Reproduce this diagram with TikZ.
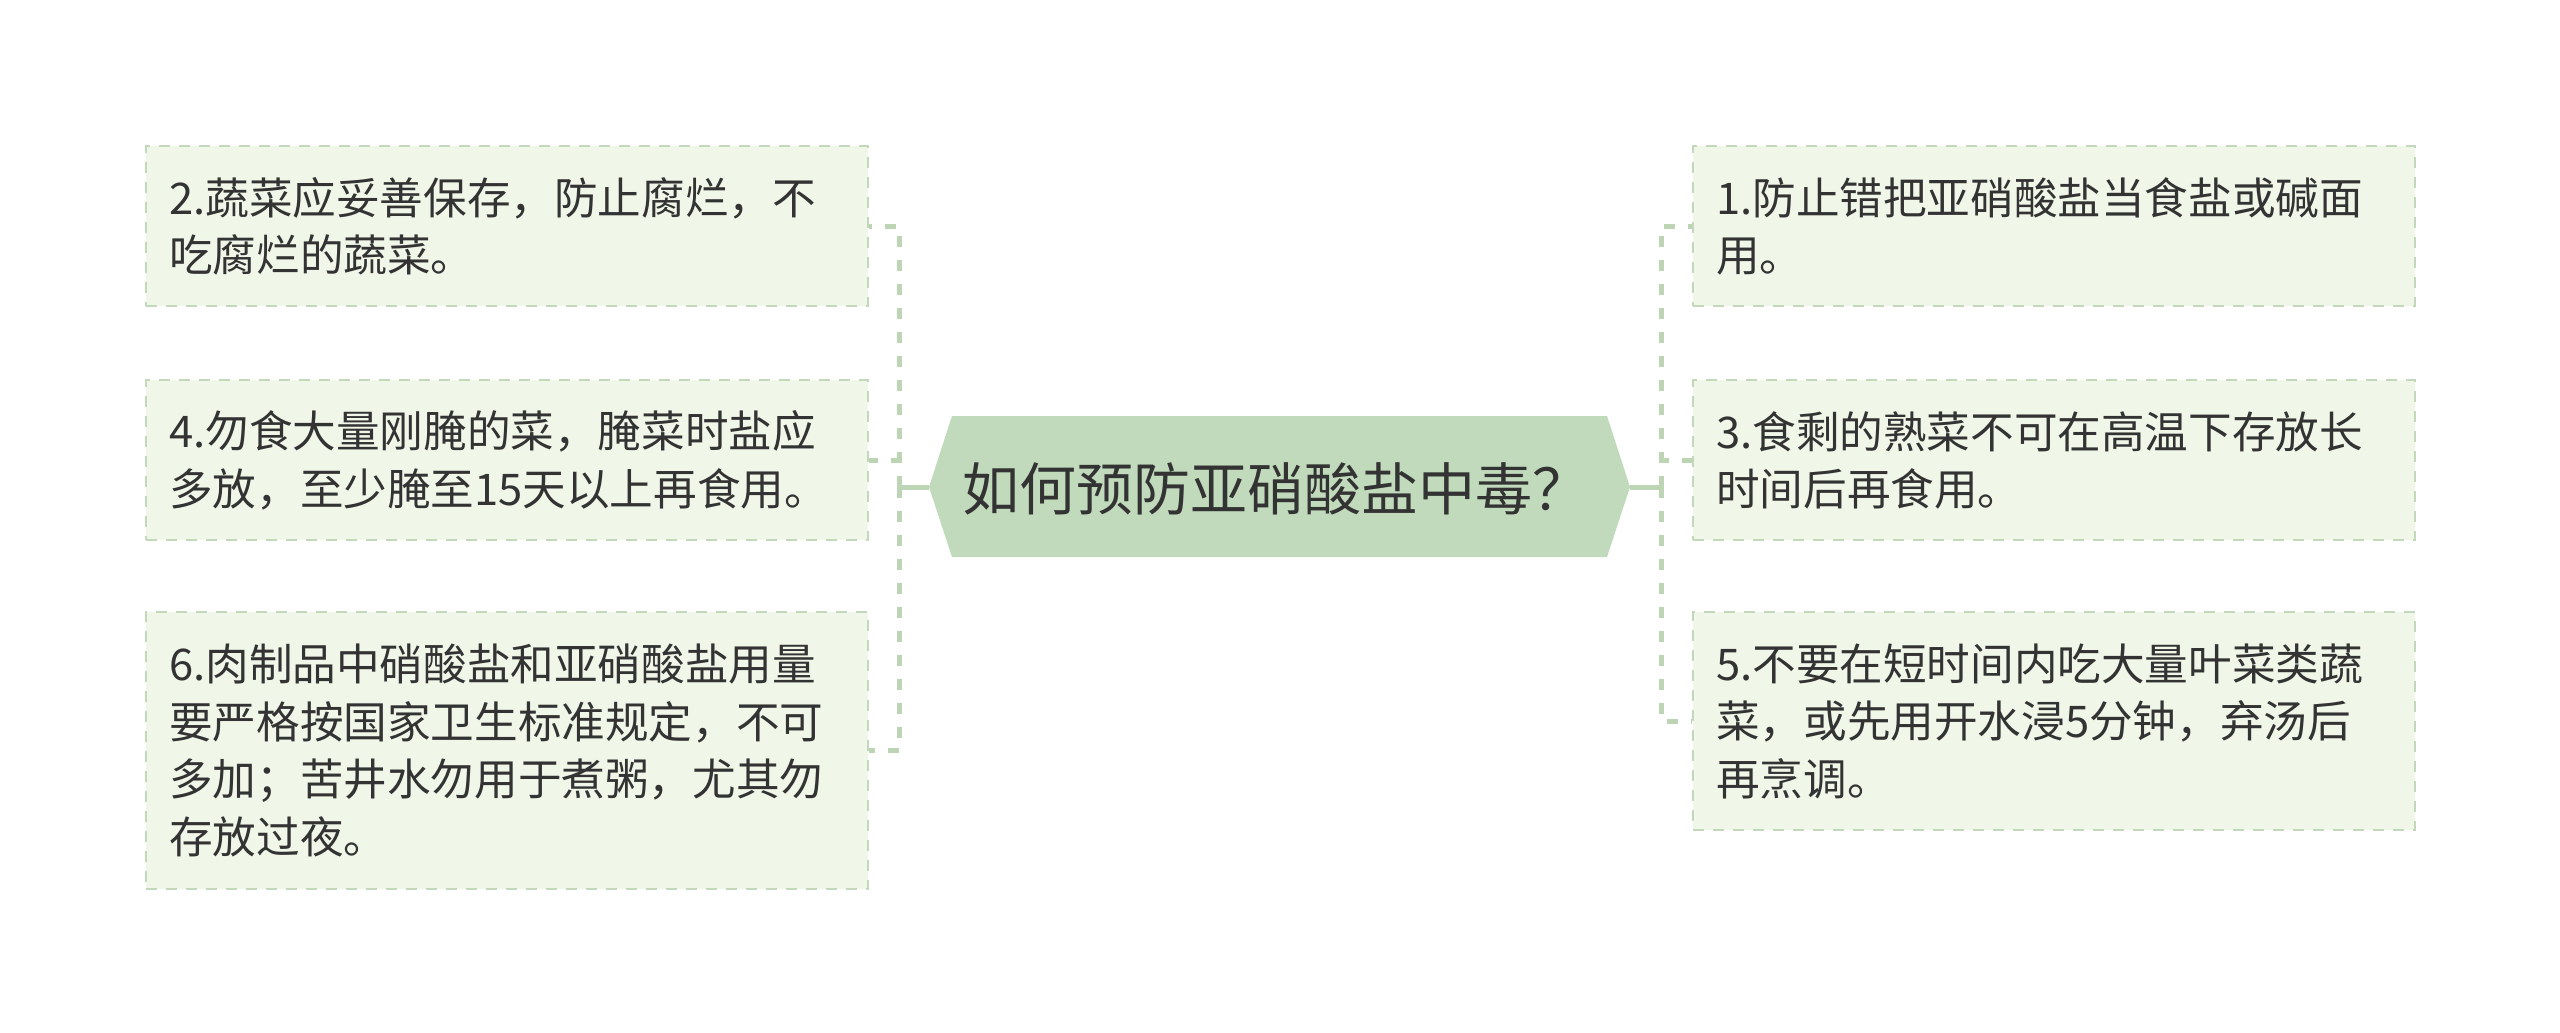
\documentclass[tikz,border=0pt]{standalone}
\usepackage{fontspec}
\newfontfamily\cjk{Noto Sans CJK SC}
\usetikzlibrary{calc}
\definecolor{boxfill}{HTML}{F0F6E8}
\definecolor{boxline}{HTML}{C3D8BA}
\definecolor{connline}{HTML}{BDD5B5}
\definecolor{centerfill}{HTML}{C0DABB}
\definecolor{txt}{HTML}{333333}
\tikzset{
  leafbox/.style={draw=boxline, fill=boxfill, line width=2.4pt, dash pattern=on 11pt off 9pt,
    anchor=north west, minimum width=722pt, inner xsep=23pt, inner ysep=0pt,
    text width=676pt, align=left, text=txt,
    font=\cjk\fontsize{43.6pt}{57.5pt}\selectfont},
  dashconn/.style={draw=connline, line width=5pt, dash pattern=on 11pt off 13pt},
  solidconn/.style={draw=connline, line width=5pt},
  titletext/.style={text=txt, font=\cjk\fontsize{57pt}{66pt}\selectfont, inner sep=0pt}
}
\begin{document}
\begin{tikzpicture}[x=1pt,y=1pt]
\useasboundingbox (0,0) rectangle (2560,-1033);
\fill[white] (0,0) rectangle (2560,-1033);

% center node
\coordinate (cl) at (929,-487);
\coordinate (cr) at (1630,-487);
\fill[centerfill] (952,-416) -- (1607,-416) -- (cr) -- (1607,-557) -- (952,-557) -- (cl) -- cycle;
\node[titletext] (center) at (1276,-489) {如何预防亚硝酸盐中毒？};

% left boxes
\node[leafbox, minimum height=160pt] (b2) at (145,-145) {2.蔬菜应妥善保存，防止腐烂，不\\吃腐烂的蔬菜。};
\node[leafbox, minimum height=160pt] (b4) at (145,-379) {4.勿食大量刚腌的菜，腌菜时盐应\\多放，至少腌至15天以上再食用。};
\node[leafbox, minimum height=277pt] (b6) at (145,-611) {6.肉制品中硝酸盐和亚硝酸盐用量\\要严格按国家卫生标准规定，不可\\多加；苦井水勿用于煮粥，尤其勿\\存放过夜。};

% right boxes
\node[leafbox, minimum height=160pt] (b1) at (1692,-145) {1.防止错把亚硝酸盐当食盐或碱面\\用。};
\node[leafbox, minimum height=160pt] (b3) at (1692,-379) {3.食剩的熟菜不可在高温下存放长\\时间后再食用。};
\node[leafbox, minimum height=218pt] (b5) at (1692,-611) {5.不要在短时间内吃大量叶菜类蔬\\菜，或先用开水浸5分钟，弃汤后\\再烹调。};

% connectors
\coordinate (hubL) at (899,-487);
\coordinate (hubR) at (1661,-487);
\draw[solidconn] (cl) -- (hubL);
\draw[solidconn] (cr) -- (hubR);
\draw[dashconn] (hubL) |- (b2.east);
\draw[dashconn] (hubL) |- (b4.east);
\draw[dashconn] (hubL) |- (b6.east);
\draw[dashconn] (hubR) |- (b1.west);
\draw[dashconn] (hubR) |- (b3.west);
\draw[dashconn] (hubR) |- (b5.west);
\end{tikzpicture}
\end{document}
